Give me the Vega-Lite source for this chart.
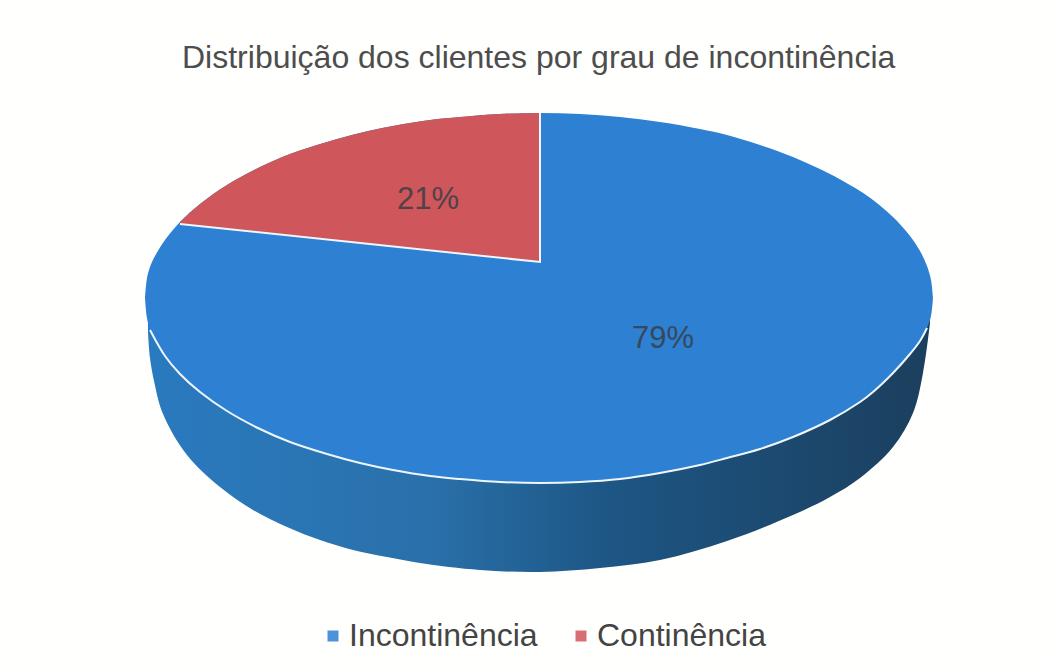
{"$schema":"https://vega.github.io/schema/vega-lite/v6.json","width":1051,"height":668,"autosize":"none","padding":0,"background":"#fffffd","title":{"text":"Distribuição dos clientes por grau de incontinência","font":"Liberation Sans","fontSize":32,"fontWeight":"normal","color":"#4d4d4d","anchor":"start","frame":"group","offset":-75,"dx":182},"config":{"view":{"stroke":null}},"datasets":{"side":[{"x":148,"y":332,"y2":300},{"x":150,"y":358,"y2":300},{"x":154,"y":381,"y2":300},{"x":163,"y":414,"y2":300},{"x":187,"y":455,"y2":300},{"x":220,"y":487,"y2":300},{"x":253,"y":510,"y2":300},{"x":287,"y":527,"y2":300},{"x":320,"y":540,"y2":300},{"x":353,"y":550,"y2":300},{"x":387,"y":557,"y2":300},{"x":420,"y":563,"y2":300},{"x":480,"y":570,"y2":300},{"x":540,"y":572,"y2":300},{"x":600,"y":568,"y2":300},{"x":660,"y":560,"y2":300},{"x":727,"y":541,"y2":300},{"x":793,"y":515,"y2":300},{"x":830,"y":497,"y2":300},{"x":860,"y":478,"y2":300},{"x":893,"y":447,"y2":300},{"x":913,"y":413,"y2":300},{"x":923,"y":373,"y2":300},{"x":930,"y":323,"y2":300}],"disc":[{"x":145,"y":298,"y2":298,"slice":"Incontinência"},{"x":147,"y":278,"y2":318,"slice":"Incontinência"},{"x":150,"y":267,"y2":330,"slice":"Incontinência"},{"x":155,"y":256,"y2":340,"slice":"Incontinência"},{"x":165,"y":240,"y2":356,"slice":"Incontinência"},{"x":180,"y":222,"y2":374,"slice":"Incontinência"},{"x":200,"y":204,"y2":392,"slice":"Incontinência"},{"x":227,"y":185,"y2":411,"slice":"Incontinência"},{"x":260,"y":167,"y2":429,"slice":"Incontinência"},{"x":290,"y":154,"y2":442,"slice":"Incontinência"},{"x":327,"y":142,"y2":454,"slice":"Incontinência"},{"x":360,"y":133,"y2":463,"slice":"Incontinência"},{"x":393,"y":126,"y2":470,"slice":"Incontinência"},{"x":430,"y":120,"y2":476,"slice":"Incontinência"},{"x":460,"y":117,"y2":479,"slice":"Incontinência"},{"x":500,"y":114,"y2":482,"slice":"Incontinência"},{"x":540,"y":113,"y2":483,"slice":"Incontinência"},{"x":580,"y":114,"y2":482,"slice":"Incontinência"},{"x":620,"y":117,"y2":479,"slice":"Incontinência"},{"x":660,"y":122,"y2":473,"slice":"Incontinência"},{"x":700,"y":129,"y2":465,"slice":"Incontinência"},{"x":727,"y":135,"y2":458,"slice":"Incontinência"},{"x":760,"y":145,"y2":449,"slice":"Incontinência"},{"x":793,"y":157,"y2":437,"slice":"Incontinência"},{"x":830,"y":174,"y2":420,"slice":"Incontinência"},{"x":860,"y":191,"y2":402,"slice":"Incontinência"},{"x":873,"y":200,"y2":392,"slice":"Incontinência"},{"x":893,"y":217,"y2":373,"slice":"Incontinência"},{"x":910,"y":236,"y2":354,"slice":"Incontinência"},{"x":920,"y":251,"y2":341,"slice":"Incontinência"},{"x":927,"y":266,"y2":328,"slice":"Incontinência"},{"x":931,"y":280,"y2":316,"slice":"Incontinência"},{"x":933,"y":298,"y2":298,"slice":"Incontinência"}],"wedge":[{"x":180,"y":222,"y2":224,"slice":"Continência"},{"x":200,"y":204,"y2":226,"slice":"Continência"},{"x":227,"y":185,"y2":229,"slice":"Continência"},{"x":260,"y":167,"y2":232,"slice":"Continência"},{"x":290,"y":154,"y2":236,"slice":"Continência"},{"x":327,"y":142,"y2":240,"slice":"Continência"},{"x":360,"y":133,"y2":243,"slice":"Continência"},{"x":393,"y":126,"y2":246,"slice":"Continência"},{"x":430,"y":120,"y2":250,"slice":"Continência"},{"x":460,"y":117,"y2":254,"slice":"Continência"},{"x":500,"y":114,"y2":258,"slice":"Continência"},{"x":540,"y":113,"y2":262,"slice":"Continência"}],"front":[{"o":1,"x":150,"y":330},{"o":2,"x":165,"y":356},{"o":3,"x":180,"y":374},{"o":4,"x":200,"y":392},{"o":5,"x":227,"y":411},{"o":6,"x":260,"y":429},{"o":7,"x":290,"y":442},{"o":8,"x":327,"y":454},{"o":9,"x":360,"y":463},{"o":10,"x":393,"y":470},{"o":11,"x":430,"y":476},{"o":12,"x":460,"y":479},{"o":13,"x":500,"y":482},{"o":14,"x":540,"y":483},{"o":15,"x":580,"y":482},{"o":16,"x":620,"y":479},{"o":17,"x":660,"y":473},{"o":18,"x":700,"y":465},{"o":19,"x":727,"y":458},{"o":20,"x":760,"y":449},{"o":21,"x":793,"y":437},{"o":22,"x":830,"y":420},{"o":23,"x":860,"y":402},{"o":24,"x":873,"y":392},{"o":25,"x":893,"y":373},{"o":26,"x":910,"y":354},{"o":27,"x":920,"y":341},{"o":28,"x":927,"y":328}],"cut":[{"o":1,"x":180,"y":224},{"o":2,"x":540,"y":262},{"o":3,"x":540,"y":113}],"labels":[{"x":428,"y":200,"text":"21%"},{"x":663,"y":339,"text":"79%"}]},"encoding":{"x":{"field":"x","type":"quantitative","scale":{"domain":[0,1051],"nice":false,"zero":false},"axis":null},"y":{"field":"y","type":"quantitative","scale":{"domain":[668,0],"nice":false,"zero":false},"axis":null}},"layer":[{"data":{"name":"side"},"mark":{"type":"area","interpolate":"catmull-rom","color":{"gradient":"linear","x1":0,"y1":0,"x2":1,"y2":0,"stops":[{"offset":0,"color":"#2a7abf"},{"offset":0.35,"color":"#2a71ab"},{"offset":0.6,"color":"#1d5583"},{"offset":1,"color":"#1b3f5e"}]}},"encoding":{"y2":{"field":"y2"}}},{"data":{"name":"disc"},"mark":{"type":"area","interpolate":"catmull-rom"},"encoding":{"y2":{"field":"y2"},"color":{"field":"slice","type":"nominal","scale":{"domain":["Incontinência","Continência"],"range":["#2d80d2","#cf565a"]},"legend":{"orient":"none","legendX":317,"legendY":620,"direction":"horizontal","title":null,"symbolType":"square","symbolSize":121,"symbolStrokeWidth":0,"labelFont":"Liberation Sans","labelFontSize":32,"labelColor":"#444444","labelLimit":300,"labelOffset":0,"columnPadding":27,"symbolOpacity":0.85}}}},{"data":{"name":"wedge"},"mark":{"type":"area","interpolate":"catmull-rom"},"encoding":{"y2":{"field":"y2"},"color":{"field":"slice","type":"nominal"}}},{"data":{"name":"front"},"mark":{"type":"line","color":"#eef6fb","strokeWidth":2,"interpolate":"catmull-rom"},"encoding":{"order":{"field":"o"}}},{"data":{"name":"cut"},"mark":{"type":"line","color":"#eef6fb","strokeWidth":2},"encoding":{"order":{"field":"o"}}},{"data":{"name":"labels"},"mark":{"type":"text","font":"Liberation Sans","fontSize":31,"color":"#3a3f48","opacity":0.85},"encoding":{"text":{"field":"text"}}}]}
